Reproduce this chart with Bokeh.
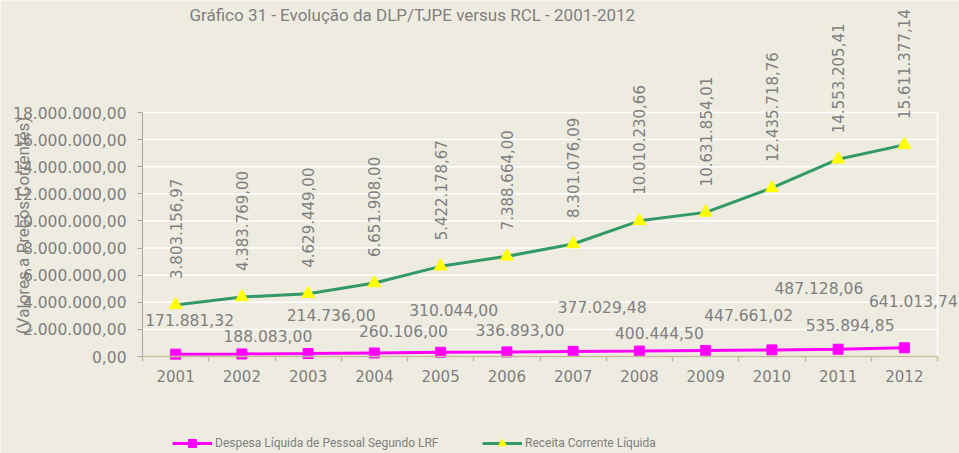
import math
from bokeh.plotting import figure
from bokeh.models import (Range1d, FixedTicker, ColumnDataSource, LabelSet, Label,
                          Legend, LegendItem)
from bokeh.core.properties import value
from bokeh.embed import file_html
from bokeh.resources import INLINE

# ---------------- data ----------------
years = ["2001", "2002", "2003", "2004", "2005", "2006",
         "2007", "2008", "2009", "2010", "2011", "2012"]
despesa = [171881.32, 188083.00, 214736.00, 260106.00, 310044.00, 336893.00,
           377029.48, 400444.50, 447661.02, 487128.06, 535894.85, 641013.74]
receita = [3803156.97, 4383769.00, 4629449.00, 5422178.67, 6651908.00, 7388664.00,
           8301076.09, 10010230.66, 10631854.01, 12435718.76, 14553205.41, 15611377.14]
# data-label texts as printed on the original chart
receita_labels = ["3.803.156,97", "4.383.769,00", "4.629.449,00", "6.651.908,00",
                  "5.422.178,67", "7.388.664,00", "8.301.076,09", "10.010.230,66",
                  "10.631.854,01", "12.435.718,76", "14.553.205,41", "15.611.377,14"]
y_ticks = [0, 2000000, 4000000, 6000000, 8000000, 10000000,
           12000000, 14000000, 16000000, 18000000]
y_tick_labels = ["0,00", "2.000.000,00", "4.000.000,00", "6.000.000,00", "8.000.000,00",
                 "10.000.000,00", "12.000.000,00", "14.000.000,00", "16.000.000,00",
                 "18.000.000,00"]
title_text = "Gráfico 31 - Evolução da DLP/TJPE  versus  RCL - 2001-2012"
y_axis_title = "(Valores a Preços Correntes)"
legend_despesa = "Despesa Líquida de Pessoal Segundo LRF"
legend_receita = "Receita Corrente Líquida"

# ---------------- layout ----------------
W, H = 959, 453
FRAME_L, FRAME_R, FRAME_T, FRAME_B = 142, 937, 112, 356   # plot-area edges (px)
# pixel offsets of the hand-placed labels of the pink series
despesa_label_dx = [14, 26, 23, 29, 13, 13, 29, 20, 43, 47, 12, 9]
despesa_label_dy = [34, 18, 39, 22, 42, 22, 44, 18, 35, 62, 24, 47]


def fmt_br(v):
    s = f"{v:,.2f}"
    return s.replace(",", "X").replace(".", ",").replace("X", ".")


BG = "#EEECE1"
GREY = "#7F7F7F"
NUM_FONT = "DejaVu Sans"
TXT_FONT = "Roboto"
PINK = "#FF00FF"
GREEN = "#339966"
AXIS_X = "#C4BD97"
AXIS_Y = "#A6A6A6"

n = len(years)
xs = list(range(n))
x_lo, x_hi = -0.5, n - 0.5
y_lo, y_hi = y_ticks[0], y_ticks[-1]
x_per = (FRAME_R - FRAME_L) / (x_hi - x_lo)
y_per = (FRAME_B - FRAME_T) / (y_hi - y_lo)

p = figure(width=W, height=H, output_backend="svg", toolbar_location=None,
           x_range=Range1d(x_lo - FRAME_L / x_per, x_hi + (W - FRAME_R) / x_per),
           y_range=Range1d(y_lo - (H - FRAME_B) / y_per, y_hi + FRAME_T / y_per),
           min_border_left=0, min_border_right=0, min_border_top=0,
           min_border_bottom=0)
p.title.visible = False
p.background_fill_color = BG
p.border_fill_color = BG
p.outline_line_color = None
p.xgrid.grid_line_color = None
p.ygrid.grid_line_color = None

# plot-area grid and border (white)
p.segment(x0=[x_lo] * len(y_ticks), x1=[x_hi] * len(y_ticks),
          y0=y_ticks, y1=y_ticks, line_color="white", line_width=1.5)
p.segment(x0=[x_hi], x1=[x_hi], y0=[y_lo], y1=[y_hi], line_color="white", line_width=1.5)

# axes
p.xaxis.fixed_location = y_lo
p.xaxis.bounds = (x_lo, x_hi)
p.xaxis.ticker = FixedTicker(ticks=xs, minor_ticks=[i - 0.5 for i in range(n + 1)])
p.xaxis.major_label_overrides = {i: y for i, y in enumerate(years)}
p.xaxis.axis_line_color = AXIS_X
p.xaxis.axis_line_width = 1.5
p.xaxis.major_tick_out = 0
p.xaxis.major_tick_in = 0
p.xaxis.minor_tick_out = 5
p.xaxis.minor_tick_in = 0
p.xaxis.minor_tick_line_color = AXIS_X
p.xaxis.minor_tick_line_width = 1.5
p.xaxis.major_label_standoff = 8
p.xaxis.major_label_text_font = NUM_FONT
p.xaxis.major_label_text_font_size = "15px"
p.xaxis.major_label_text_color = GREY

p.yaxis.fixed_location = x_lo
p.yaxis.bounds = (y_lo, y_hi)
p.yaxis.ticker = FixedTicker(ticks=y_ticks, minor_ticks=[])
p.yaxis.major_label_overrides = {t: l for t, l in zip(y_ticks, y_tick_labels)}
p.yaxis.axis_line_color = AXIS_Y
p.yaxis.major_tick_line_color = AXIS_Y
p.yaxis.major_tick_out = 5
p.yaxis.major_tick_in = 0
p.yaxis.minor_tick_out = 0
p.yaxis.minor_tick_in = 0
p.yaxis.major_label_standoff = 11
p.yaxis.major_label_text_font = NUM_FONT
p.yaxis.major_label_text_font_size = "15.5px"
p.yaxis.major_label_text_color = GREY

# series
src_d = ColumnDataSource(dict(x=xs, y=despesa, label=[fmt_br(v) for v in despesa],
                              dx=despesa_label_dx, dy=despesa_label_dy))
src_r = ColumnDataSource(dict(x=xs, y=receita, label=receita_labels))

d_line = p.line("x", "y", source=src_d, line_color=PINK, line_width=3)
d_mark = p.scatter("x", "y", source=src_d, marker="square", size=10,
                   fill_color=PINK, line_color=PINK)
r_line = p.line("x", "y", source=src_r, line_color=GREEN, line_width=3)
r_mark = p.scatter("x", "y", source=src_r, marker="triangle", size=13,
                   fill_color="#FFFF00", line_color="#FFFF00")

# data labels
p.add_layout(LabelSet(x="x", y="y", text="label", source=src_r, angle=math.pi / 2,
                      x_offset=0, y_offset=26, text_align="left", text_baseline="middle",
                      text_font=value(NUM_FONT), text_font_size=value("15px"),
                      text_color=value(GREY)))
p.add_layout(LabelSet(x="x", y="y", text="label", source=src_d,
                      x_offset="dx", y_offset="dy", text_align="center",
                      text_baseline="middle",
                      text_font=value(NUM_FONT), text_font_size=value("15.5px"),
                      text_color=value(GREY)))

# title & axis title
p.add_layout(Label(x=416, y=H - 14, x_units="screen", y_units="screen", text=title_text,
                   text_align="center", text_baseline="alphabetic",
                   text_font=TXT_FONT, text_font_size="17px", text_color=GREY))
p.add_layout(Label(x=22, y=H - 225, x_units="screen", y_units="screen", text=y_axis_title,
                   angle=math.pi / 2, text_align="center", text_baseline="middle",
                   text_font=TXT_FONT, text_font_size="17px", text_color=GREY))

# legends
for label, rends, lx in [(legend_despesa, [d_line, d_mark], 172),
                         (legend_receita, [r_line, r_mark], 482)]:
    lg = Legend(items=[LegendItem(label=label, renderers=rends)], location=(lx, 0),
                orientation="horizontal", padding=0, margin=0, spacing=0,
                glyph_width=40, glyph_height=20, label_standoff=3,
                label_text_font=TXT_FONT, label_text_font_size="12px",
                label_text_color=GREY, background_fill_alpha=0,
                border_line_color=None)
    p.add_layout(lg)

open("out.html", "w").write(file_html(p, INLINE))
